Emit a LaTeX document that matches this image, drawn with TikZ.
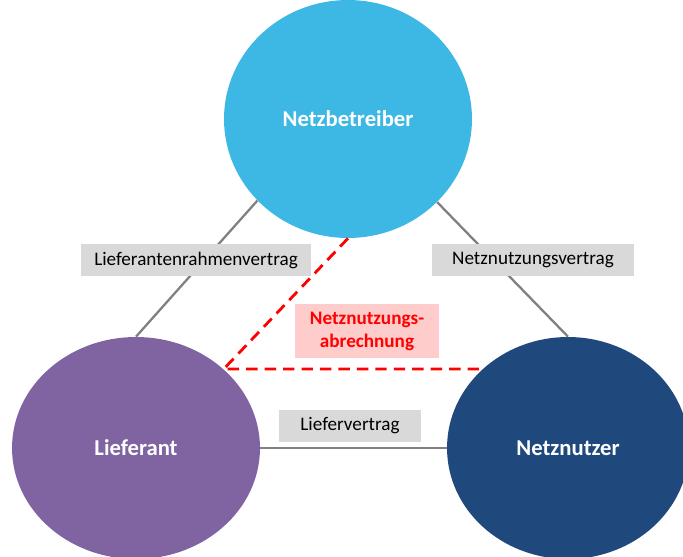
\documentclass[tikz,border=0pt]{standalone}
\usepackage{fontspec}
\setmainfont{Carlito}
\usetikzlibrary{shapes.geometric}
\definecolor{nbblue}{RGB}{61,184,229}
\definecolor{lfpurple}{RGB}{128,100,162}
\definecolor{nndark}{RGB}{31,73,125}
\definecolor{boxgray}{RGB}{217,217,217}
\definecolor{linegray}{RGB}{128,128,128}
\definecolor{boxpink}{RGB}{255,204,204}
\tikzset{
    party/.style={ellipse, inner sep=0pt, text=white, font=\fontsize{12.9}{15}\selectfont\bfseries},
    contract/.style={fill=boxgray, minimum height=0.64cm, inner sep=0pt, font=\fontsize{10.9}{13}\selectfont},
    link/.style={linegray, line width=1.3pt},
    billing/.style={red, line width=1.6pt, dash pattern=on 6.5pt off 4pt}
}
\begin{document}
\begin{tikzpicture}[x=0.02cm, y=-0.02cm]
    \useasboundingbox (0,0) rectangle (683,557);
    \begin{scope}
        \clip (0,0) rectangle (683,557);
        % parties
        \node[party, fill=nbblue, minimum width=4.96cm, minimum height=4.76cm] (nb) at (348,119) {Netzbetreiber};
        \node[party, fill=lfpurple, minimum width=4.96cm, minimum height=4.44cm] (lf) at (136,448) {Lieferant};
        \node[party, fill=nndark, minimum width=4.84cm, minimum height=4.44cm] (nn) at (568,448) {Netznutzer};
    \end{scope}
    % contracts
    \draw[link] (nb.222) -- (lf.north);
    \draw[link] (nb.317) -- (nn.north);
    \draw[link] (lf.east) -- (nn.west);
    \draw[billing] (nb.south) -- (lf.42) -- (lf.42 -| nn.136);
    \node[contract, minimum width=4.62cm] (rahmen) at (196,260) {Lieferantenrahmenvertrag};
    \node[contract, minimum width=4.04cm] (nutzung) at (533,260) {Netznutzungsvertrag};
    \node[contract, minimum width=2.86cm] (liefer) at (350,426) {Liefervertrag};
    \node[fill=boxpink, text=red, align=center, minimum width=2.88cm, minimum height=1.1cm, inner sep=0pt,
        font=\fontsize{10.9}{13}\selectfont\bfseries] (abrechnung) at (367,331) {Netznutzungs-\\abrechnung};
\end{tikzpicture}
\end{document}
